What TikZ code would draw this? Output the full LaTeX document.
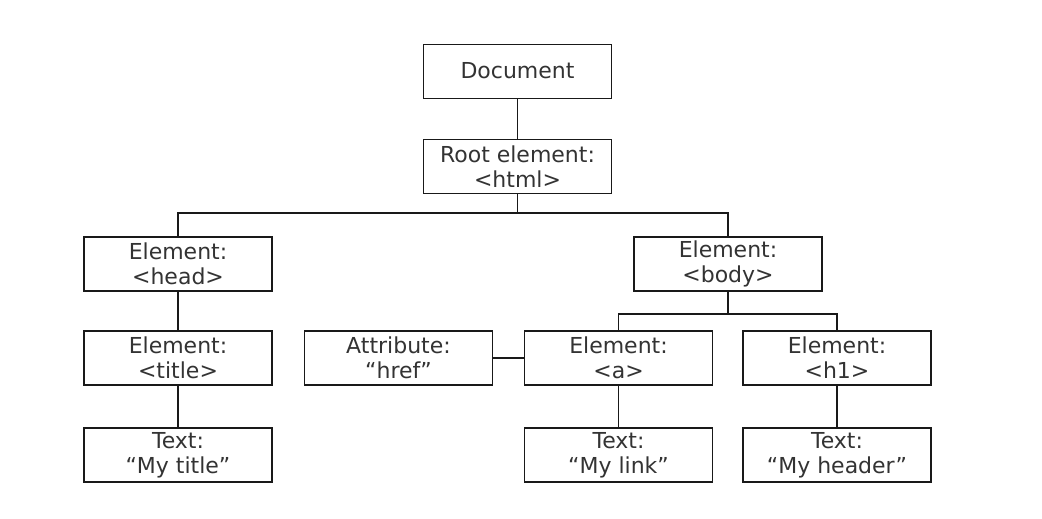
\documentclass[tikz,border=0pt]{standalone}
\usepackage{fontspec}
\setmainfont{DejaVu Sans}
\begin{document}
\begin{tikzpicture}[x=1pt,y=-1pt,
  box/.style={draw=black!90, line width=1.6pt, minimum width=188pt, minimum height=54pt,
    inner sep=0pt, align=center, text=black!80, font=\fontsize{22}{25}\selectfont},
  link/.style={draw=black!90, line width=1.6pt}]
\useasboundingbox (0,0) rectangle (1042,519);
\node[box] (doc) at (517.5,71.5) {\raisebox{2pt}{Document}};
\node[box] (root) at (517.5,166.5) {Root element:\\\textless html\textgreater};
\node[box] (head) at (178,264) {Element:\\\textless head\textgreater};
\node[box] (body) at (728,264) {Element:\\\textless body\textgreater};
\node[box] (title) at (178,358) {Element:\\\textless title\textgreater};
\node[box] (attr) at (398.5,358) {Attribute:\\“href”};
\node[box] (a) at (618.5,358) {Element:\\\textless a\textgreater};
\node[box] (h1) at (837,358) {Element:\\\textless h1\textgreater};
\node[box] (mytitle) at (178,455) {Text:\\“My title”};
\node[box] (mylink) at (618.5,455) {Text:\\“My link”};
\node[box] (myheader) at (837,455) {Text:\\“My header”};
\coordinate (bus) at (517.5,213);
\coordinate (subbus) at (728,314);
\draw[link] (doc) -- (root);
\draw[link] (root.south) -- (bus);
\draw[link] (head.north) |- (bus) -| (body.north);
\draw[link] (body.south) -- (subbus);
\draw[link] (a.north) |- (subbus) -| (h1.north);
\draw[link] (head) -- (title);
\draw[link] (title) -- (mytitle);
\draw[link] (attr) -- (a);
\draw[link] (a) -- (mylink);
\draw[link] (h1) -- (myheader);
\end{tikzpicture}
\end{document}
